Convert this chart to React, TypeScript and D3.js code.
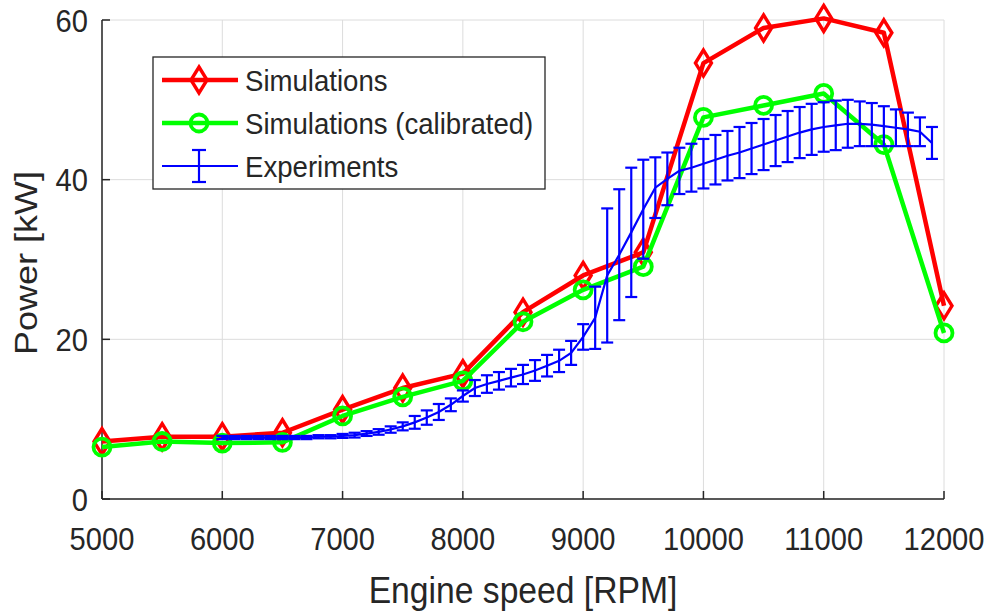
import React from "react";
import * as d3 from "d3";

const simRpm = [5000, 5500, 6000, 6500, 7000, 7500, 8000, 8500, 9000, 9500, 10000, 10500, 11000, 11500, 12000];
const simPower = [7.2, 7.8, 7.8, 8.3, 11.2, 13.9, 15.7, 23.4, 28.0, 30.9, 54.6, 59.0, 60.2, 58.4, 24.2];
const calPower = [6.5, 7.2, 7.0, 7.1, 10.4, 12.8, 14.8, 22.2, 26.2, 29.1, 47.8, 49.3, 50.8, 44.4, 20.8];

const expRpm = [
  6000, 6100, 6200, 6300, 6400, 6500, 6600, 6700, 6800, 6900,
  7000, 7100, 7200, 7300, 7400, 7500, 7600, 7700, 7800, 7900,
  8000, 8100, 8200, 8300, 8400, 8500, 8600, 8700, 8800, 8900,
  9000, 9100, 9200, 9300, 9400, 9500, 9600, 9700, 9800, 9900,
  10000, 10100, 10200, 10300, 10400, 10500, 10600, 10700, 10800, 10900,
  11000, 11100, 11200, 11300, 11400, 11500, 11600, 11700, 11800, 11900,
];
const expMean = [
  7.7, 7.7, 7.7, 7.7, 7.7, 7.7, 7.7, 7.7, 7.8, 7.8,
  7.9, 8.0, 8.2, 8.4, 8.7, 9.1, 9.6, 10.2, 10.9, 11.8,
  12.9, 13.9, 14.4, 14.8, 15.2, 15.6, 16.1, 16.7, 17.3, 18.3,
  20.3, 22.7, 28.0, 30.6, 33.4, 36.3, 39.0, 40.1, 41.1, 41.5,
  42.0, 42.5, 43.0, 43.4, 43.9, 44.4, 44.9, 45.4, 45.9, 46.3,
  46.6, 46.8, 47.0, 47.0, 46.9, 46.7, 46.5, 46.3, 46.0, 44.6,
];
const expErr = [
  0.2, 0.2, 0.2, 0.2, 0.2, 0.2, 0.2, 0.2, 0.2, 0.2,
  0.25, 0.3, 0.3, 0.35, 0.4, 0.5, 0.8, 0.9, 1.0, 0.8,
  0.7, 1.0, 1.1, 1.1, 1.1, 1.2, 1.3, 1.35, 1.4, 1.5,
  1.6, 3.9, 8.4, 8.2, 8.1, 6.2, 3.8, 3.3, 2.9, 3.0,
  3.1, 3.1, 3.1, 3.2, 3.2, 3.2, 3.2, 3.2, 3.2, 3.2,
  3.1, 3.1, 3.0, 2.8, 2.7, 2.5, 2.3, 2.1, 1.8, 2.0,
];

const xTicks = [5000, 6000, 7000, 8000, 9000, 10000, 11000, 12000];
const yTicks = [0, 20, 40, 60];
const legendLabels = ["Simulations", "Simulations (calibrated)", "Experiments"];

const RED = "#ff0000";
const GREEN = "#00ff00";
const BLUE = "#0000ff";
const TXT = "#262626";
const FONT = "'Liberation Sans', Arial, Helvetica, sans-serif";

export default function App() {
  const W = 991, H = 613;
  const x = d3.scaleLinear().domain([5000, 12000]).range([102, 944]);
  const y = d3.scaleLinear().domain([0, 60]).range([499, 20]);

  const line = d3.line<[number, number]>().x(d => x(d[0])).y(d => y(d[1]));
  const simPts = simRpm.map((r, i) => [r, simPower[i]] as [number, number]);
  const calPts = simRpm.map((r, i) => [r, calPower[i]] as [number, number]);
  const expPts = expRpm.map((r, i) => [r, expMean[i]] as [number, number]);

  const diamond = (cx: number, cy: number) =>
    `M${cx},${cy - 13}L${cx + 8},${cy}L${cx},${cy + 13}L${cx - 8},${cy}Z`;

  const cap = 6;
  const legX = 153, legY = 57, legW = 392, legH = 132;
  const rows = [80, 123, 166];

  return (
    <svg width={W} height={H} style={{ position: "absolute", left: 0, top: 0, display: "block", background: "#fff" }}>
      <rect x={0} y={0} width={W} height={H} fill="#fff" />
      {/* grid */}
      <g stroke="#dcdcdc" strokeWidth={1}>
        {xTicks.map(t => (
          <line key={"gx" + t} x1={x(t)} x2={x(t)} y1={y(0)} y2={y(60)} />
        ))}
        {yTicks.map(t => (
          <line key={"gy" + t} x1={x(5000)} x2={x(12000)} y1={y(t)} y2={y(t)} />
        ))}
      </g>
      {/* axes */}
      <g stroke={TXT} strokeWidth={1.5} fill="none">
        <line x1={x(5000)} x2={x(12000)} y1={y(0)} y2={y(0)} />
        <line x1={x(5000)} x2={x(5000)} y1={y(0)} y2={y(60)} />
        {xTicks.map(t => (
          <line key={"tx" + t} x1={x(t)} x2={x(t)} y1={y(0)} y2={y(0) - 8} />
        ))}
        {yTicks.map(t => (
          <line key={"ty" + t} x1={x(5000)} x2={x(5000) + 8} y1={y(t)} y2={y(t)} />
        ))}
      </g>
      {/* tick labels */}
      <g fill={TXT} fontFamily={FONT} fontSize={32}>
        {xTicks.map(t => (
          <text key={"lx" + t} transform={`translate(${x(t)},${y(0) + 51}) scale(0.91,1)`} textAnchor="middle">
            {t}
          </text>
        ))}
        {yTicks.map(t => (
          <text key={"ly" + t} transform={`translate(88,${y(t) + 11.5}) scale(0.91,1)`} textAnchor="end">
            {t}
          </text>
        ))}
      </g>
      {/* axis labels */}
      <text transform={`translate(523,603) scale(0.91,1)`} textAnchor="middle" fontFamily={FONT} fontSize={37} fill={TXT}>
        Engine speed [RPM]
      </text>
      <text transform={`translate(37,263) scale(0.88,1) rotate(-90)`} textAnchor="middle" fontFamily={FONT} fontSize={36} fill={TXT}>
        Power [kW]
      </text>

      {/* Simulations */}
      <path d={line(simPts) || ""} fill="none" stroke={RED} strokeWidth={4.5} strokeLinejoin="round" />
      {simPts.map((p, i) => (
        <path key={"sd" + i} d={diamond(x(p[0]), y(p[1]))} fill="none" stroke={RED} strokeWidth={3.4} />
      ))}
      {/* Calibrated */}
      <path d={line(calPts) || ""} fill="none" stroke={GREEN} strokeWidth={4.5} strokeLinejoin="round" />
      {calPts.map((p, i) => (
        <circle key={"cc" + i} cx={x(p[0])} cy={y(p[1])} r={8.5} fill="none" stroke={GREEN} strokeWidth={3.8} />
      ))}
      {/* Experiments */}
      <g stroke={BLUE} strokeWidth={2.2} fill="none">
        {expPts.map((p, i) => {
          const cx = x(p[0]);
          const top = y(p[1] + expErr[i]);
          const bot = y(p[1] - expErr[i]);
          return (
            <g key={"eb" + i}>
              <line x1={cx} x2={cx} y1={top} y2={bot} />
              <line x1={cx - cap} x2={cx + cap} y1={top} y2={top} />
              <line x1={cx - cap} x2={cx + cap} y1={bot} y2={bot} />
            </g>
          );
        })}
        <path d={line(expPts) || ""} strokeWidth={2.2} />
      </g>

      {/* legend */}
      <rect x={legX} y={legY} width={legW} height={legH} fill="#fff" stroke={TXT} strokeWidth={1.3} />
      <line x1={162} x2={238} y1={rows[0]} y2={rows[0]} stroke={RED} strokeWidth={4.5} />
      <path d={diamond(199, rows[0])} fill="none" stroke={RED} strokeWidth={3.4} />
      <line x1={162} x2={238} y1={rows[1]} y2={rows[1]} stroke={GREEN} strokeWidth={4.5} />
      <circle cx={199} cy={rows[1]} r={8.5} fill="none" stroke={GREEN} strokeWidth={3.8} />
      <g stroke={BLUE} strokeWidth={2.2}>
        <line x1={162} x2={238} y1={rows[2]} y2={rows[2]} />
        <line x1={199} x2={199} y1={rows[2] - 16} y2={rows[2] + 16} />
        <line x1={192} x2={206} y1={rows[2] - 16} y2={rows[2] - 16} />
        <line x1={192} x2={206} y1={rows[2] + 16} y2={rows[2] + 16} />
      </g>
      <g fill={TXT} fontFamily={FONT} fontSize={30}>
        {legendLabels.map((l, i) => (
          <text key={l} transform={`translate(245,${rows[i] + 11}) scale(0.92,1)`}>
            {l}
          </text>
        ))}
      </g>
    </svg>
  );
}
